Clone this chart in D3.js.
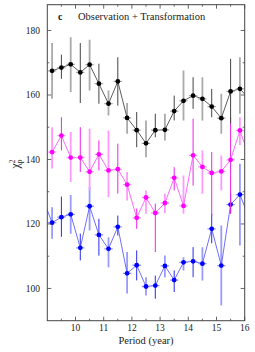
<!DOCTYPE html>
<html>
<head>
<meta charset="utf-8">
<script src="https://cdn.jsdelivr.net/npm/d3@7"></script>
<style>
  html, body { margin: 0; padding: 0; background: #fff; }
  svg { display: block; font-family: "Liberation Serif", "DejaVu Serif", serif; }
</style>
</head>
<body>
<div id="chart"></div>
<script>
// periods (year); the first and last points fall outside the axis and get clipped
const periods = [8.83, 9.17, 9.5, 9.83, 10.17, 10.5, 10.83, 11.17, 11.5, 11.83, 12.17, 12.5,
  12.83, 13.17, 13.5, 13.83, 14.17, 14.5, 14.83, 15.17, 15.5, 15.83, 16.17];

// black series
const blackVal = [null, 167.5, 168.5, 169.5, 167.0, 169.4, 163.5, 157.3, 164.2, 152.9, 149.1, 145.0,
  149.1, 149.2, 155.0, 158.2, 159.8, 158.8, 156.4, 152.8, 161.1, 161.9, 158.7];
const blackHi = [null, 176.1, 172.5, 177.9, 176.1, 177.1, 169.7, 161.4, 171.7, 157.5, 154.7, 152.1,
  154.2, 154.2, 159.8, 167.6, 165.5, 165.5, 161.9, 160.4, 171.2, 171.7, null];
const blackLo = [null, 158.8, 165.0, 160.9, 157.5, 161.4, 157.3, 153.6, 156.7, 148.0, 143.8, 140.7,
  146.9, 145.9, 152.1, 152.1, 155.7, 152.1, 153.1, 148.0, 151.1, 154.2, null];

// magenta series
const magentaVal = [null, 142.3, 147.4, 140.6, 140.6, 136.2, 141.6, 136.6, 137.0, 132.2, 121.9, 128.2,
  123.4, 126.5, 134.3, 125.6, 141.3, 137.7, 135.8, 136.3, 139.9, 149.0, 140.6];
const magentaHi = [null, 150.0, 153.1, 148.5, 150.0, 149.5, 145.9, 149.0, 144.9, 136.1, 124.8, 130.4,
  126.3, 129.4, 137.6, 135.0, 152.6, 142.8, 142.3, 141.2, 153.1, 153.1, null];
const magentaLo = [null, 137.2, 142.8, 133.0, 136.1, 130.4, 136.6, 128.3, 129.4, 127.3, 118.5, 123.2,
  111.3, 123.3, 130.4, 123.2, 131.9, 129.4, 122.6, 130.4, 123.2, 144.5, null];

// blue series
const blueVal = [128.2, 120.4, 122.1, 123.0, 112.6, 125.5, 116.6, 112.3, 119.1, 104.7, 107.2, 100.6,
  100.9, 107.0, 102.6, 108.1, 108.4, 107.7, 118.5, 107.1, 126.0, 129.1, 121.6];
const blueHi = [null, 125.2, 128.5, 129.0, 117.0, 131.4, 121.6, 115.9, 122.6, 111.3, 111.8, 103.5,
  104.0, 110.2, 105.6, 109.7, 112.8, 112.8, 123.2, 119.5, 129.4, 138.7, null];
const blueLo = [null, 115.4, 116.0, 117.0, 108.7, 118.0, 110.2, 106.6, 116.4, 98.4, 102.5, 97.8,
  96.8, 103.5, 98.9, 105.6, 103.5, 102.5, 114.0, 94.7, 123.2, 113.3, null];

const xTicks = [10, 11, 12, 13, 14, 15, 16];
const xMinor = [9.5, 10.5, 11.5, 12.5, 13.5, 14.5, 15.5];
const yTicks = [100, 120, 140, 160, 180];
const yMinor = [110, 130, 150, 170];

const W = 255, H = 352;
const pL = 47.3, pR = 244.7, pT = 4.7, pB = 320.7;

const x = d3.scaleLinear().domain([9, 16]).range([pL, pR]);
const y = d3.scaleLinear().domain([90, 188]).range([pB, pT]);

const svg = d3.select("#chart").append("svg")
  .attr("width", W).attr("height", H);

svg.append("rect").attr("width", W).attr("height", H).attr("fill", "#fff");

svg.append("clipPath").attr("id", "plot")
  .append("rect")
  .attr("x", pL).attr("y", pT)
  .attr("width", pR - pL).attr("height", pB - pT);

const series = [
  { val: blueVal, hi: blueHi, lo: blueLo, mark: "#0000ff", line: "#4a4aff", dark: "#2a2af0", light: "#9a9aff" },
  { val: magentaVal, hi: magentaHi, lo: magentaLo, mark: "#ff00ff", line: "#ff44ff", dark: "#ee22ee", light: "#ff99ff" },
  { val: blackVal, hi: blackHi, lo: blackLo, mark: "#000000", line: "#333333", dark: "#444444", light: "#aaaaaa" }
];

const plot = svg.append("g").attr("clip-path", "url(#plot)");

series.forEach(s => {
  const pts = periods.map((p, i) => ({ p, i, v: s.val[i], hi: s.hi[i], lo: s.lo[i] }));
  const g = plot.append("g");

  // vertical error bars, alternating dark / light
  g.selectAll(".eb").data(pts.filter(d => d.hi != null && d.v != null)).enter()
    .append("line")
    .attr("x1", d => x(d.p)).attr("x2", d => x(d.p))
    .attr("y1", d => y(d.hi)).attr("y2", d => y(d.lo))
    .attr("stroke", d => d.i % 2 === 0 ? s.dark : s.light)
    .attr("stroke-width", d => d.i % 2 === 0 ? 1 : 1.8);

  // connecting line
  const line = d3.line().defined(d => d.v != null).x(d => x(d.p)).y(d => y(d.v));
  g.append("path").datum(pts)
    .attr("d", line)
    .attr("fill", "none")
    .attr("stroke", s.line)
    .attr("stroke-width", 0.8);

  // horizontal bars on markers
  g.selectAll(".xb").data(pts.filter(d => d.v != null)).enter()
    .append("line")
    .attr("x1", d => x(d.p - 0.15)).attr("x2", d => x(d.p + 0.15))
    .attr("y1", d => y(d.v)).attr("y2", d => y(d.v))
    .attr("stroke", s.light)
    .attr("stroke-width", 1.3);

  g.selectAll(".pt").data(pts.filter(d => d.v != null)).enter()
    .append("circle")
    .attr("cx", d => x(d.p)).attr("cy", d => y(d.v))
    .attr("r", 2.4)
    .attr("fill", s.mark);
});

// frame and ticks (mirrored on all sides, pointing inward)
const axisCol = "#444";
svg.append("rect")
  .attr("x", pL).attr("y", pT)
  .attr("width", pR - pL).attr("height", pB - pT)
  .attr("fill", "none").attr("stroke", axisCol).attr("stroke-width", 1);

const tickG = svg.append("g").attr("stroke", axisCol).attr("stroke-width", 0.8);
function xTick(v, len) {
  tickG.append("line").attr("x1", x(v)).attr("x2", x(v)).attr("y1", pB).attr("y2", pB - len);
  tickG.append("line").attr("x1", x(v)).attr("x2", x(v)).attr("y1", pT).attr("y2", pT + len);
}
function yTick(v, len) {
  tickG.append("line").attr("y1", y(v)).attr("y2", y(v)).attr("x1", pL).attr("x2", pL + len);
  tickG.append("line").attr("y1", y(v)).attr("y2", y(v)).attr("x1", pR).attr("x2", pR - len);
}
xTicks.forEach(v => xTick(v, 4));
xMinor.forEach(v => xTick(v, 2));
yTicks.forEach(v => yTick(v, 4));
yMinor.forEach(v => yTick(v, 2));

// tick labels
svg.append("g").selectAll("text").data(xTicks).enter()
  .append("text")
  .attr("x", d => x(d)).attr("y", 331)
  .attr("text-anchor", "middle")
  .attr("font-size", 9.5).attr("fill", "#222")
  .text(d => d);

svg.append("g").selectAll("text").data(yTicks).enter()
  .append("text")
  .attr("x", 40).attr("y", d => y(d) + 3.3)
  .attr("text-anchor", "end")
  .attr("font-size", 9.5).attr("fill", "#222")
  .text(d => d);

// axis titles
svg.append("text")
  .attr("x", 146).attr("y", 344)
  .attr("text-anchor", "middle")
  .attr("font-size", 10.5).attr("fill", "#222")
  .text("Period (year)");

const yl = svg.append("text")
  .attr("transform", "translate(19,164) rotate(-90)")
  .attr("text-anchor", "middle")
  .attr("font-size", 12).attr("fill", "#222");
yl.append("tspan").text("χ");
yl.append("tspan").attr("font-size", 7.5).attr("dy", -4.5).text("2");
yl.append("tspan").attr("font-size", 7.5).attr("dx", -3.8).attr("dy", 7.5).text("p");

// panel title
svg.append("text")
  .attr("x", 58).attr("y", 20)
  .attr("font-size", 10).attr("font-weight", "bold").attr("fill", "#111")
  .text("c");
svg.append("text")
  .attr("x", 78).attr("y", 20)
  .attr("font-size", 10.5).attr("fill", "#222")
  .text("Observation + Transformation");
</script>
</body>
</html>
